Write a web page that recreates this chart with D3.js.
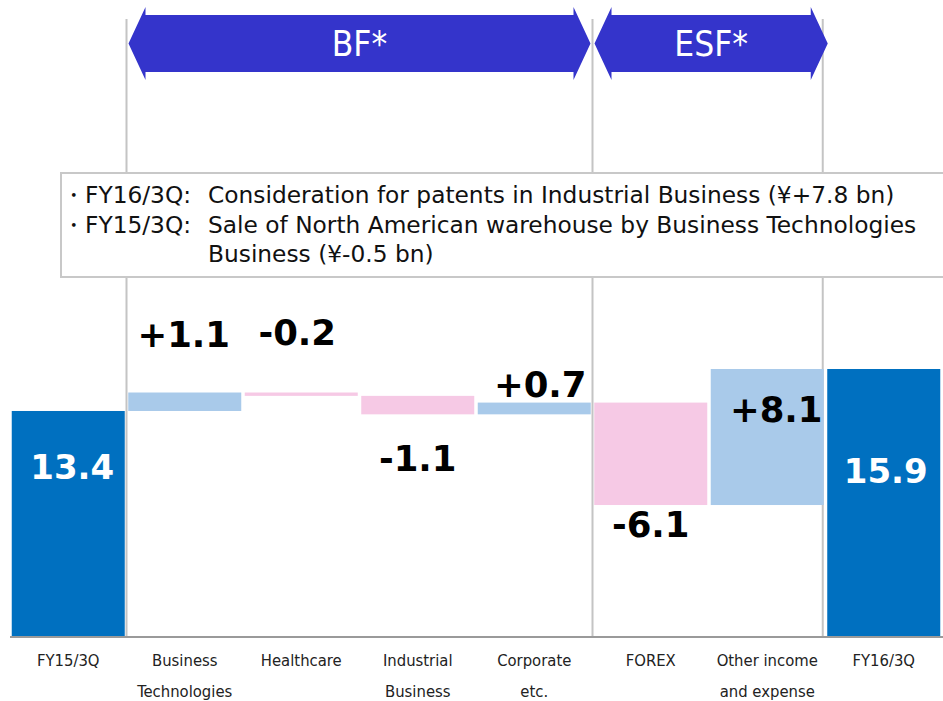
<!DOCTYPE html>
<html>
<head>
<meta charset="utf-8">
<script src="https://cdn.jsdelivr.net/npm/d3@7"></script>
<style>
  body { margin: 0; background: #fff; }
  svg { display: block; }
</style>
</head>
<body>
<div id="chart"></div>
<script>
// waterfall data (¥ bn)
const categories = ["FY15/3Q", "Business\nTechnologies", "Healthcare", "Industrial\nBusiness",
  "Corporate\netc.", "FOREX", "Other income\nand expense", "FY16/3Q"];
const changes = [13.4, 1.1, -0.2, -1.1, 0.7, -6.1, 8.1, 15.9];
const isTotal = [true, false, false, false, false, false, false, true];
const valueLabels = ["13.4", "+1.1", "-0.2", "-1.1", "+0.7", "-6.1", "+8.1", "15.9"];
const groups = [
  { name: "BF*", from: 1, to: 5 },
  { name: "ESF*", from: 5, to: 7 }
];
const notes = [
  ["・FY16/3Q:", "Consideration for patents in Industrial Business (¥+7.8 bn)"],
  ["・FY15/3Q:", "Sale of North American warehouse by Business Technologies"],
  ["", "Business (¥-0.5 bn)"]
];
// hand placed label nudges (px), like the slide
const labelDx = [4, -1, -4, 0, 6, 0, 9, 2];
const labelDy = [68, -46, -51, 57, -6, 32, 53, 114];

const W = 943, H = 701;
const svg = d3.select("#chart").append("svg")
  .attr("width", W).attr("height", H);

const x = d3.scaleBand().domain(d3.range(categories.length))
  .range([10, 942]).paddingInner(0.03).paddingOuter(0.015);
const y = d3.scaleLinear().domain([0, 15.9]).range([636, 369]);

// running totals
let run = 0;
const bars = changes.map(function (v, i) {
  let lo, hi;
  if (isTotal[i]) { lo = 0; hi = v; run = v; }
  else { lo = Math.min(run, run + v); hi = Math.max(run, run + v); run += v; }
  return { i: i, v: v, lo: lo, hi: hi };
});

const gap = x.step() - x.bandwidth();
function edge(i) { return i === 7 ? x(6) + x.bandwidth() - 1 : x(i) - gap / 2; }

// separators
const sepIdx = [1, 5, 7];
svg.selectAll("line.sep").data(sepIdx).enter().append("line")
  .attr("x1", function (d) { return edge(d); })
  .attr("x2", function (d) { return edge(d); })
  .attr("y1", 19).attr("y2", y(0))
  .attr("stroke", "#c4c4c4").attr("stroke-width", 2);

// group arrows
const arrowTop = 15, arrowBot = 72, headTop = 7, headBot = 80, headLen = 17;
groups.forEach(function (g) {
  const x0 = edge(g.from) + 2;
  const x1 = (g.to === 7 ? edge(7) + 5 : edge(g.to) - 2);
  const mid = (arrowTop + arrowBot) / 2;
  const pts = [
    [x0, mid], [x0 + headLen, headTop], [x0 + headLen, arrowTop],
    [x1 - headLen, arrowTop], [x1 - headLen, headTop], [x1, mid],
    [x1 - headLen, headBot], [x1 - headLen, arrowBot], [x0 + headLen, arrowBot],
    [x0 + headLen, headBot]
  ];
  svg.append("polygon")
    .attr("points", pts.map(function (p) { return p.join(","); }).join(" "))
    .attr("fill", "#3434cb");
  svg.append("text")
    .attr("x", (x0 + x1) / 2).attr("y", 56)
    .attr("text-anchor", "middle")
    .attr("font-family", "'DejaVu Sans Condensed', 'DejaVu Sans', sans-serif")
    .attr("font-size", 35).attr("fill", "#fff")
    .text(g.name);
});

// note box
svg.append("rect")
  .attr("x", 61).attr("y", 173).attr("width", 890).attr("height", 104)
  .attr("fill", "#fff").attr("stroke", "#c8c8c8").attr("stroke-width", 2);
const noteG = svg.append("g")
  .attr("font-family", "'DejaVu Sans', sans-serif")
  .attr("font-size", 23.3).attr("fill", "#111");
notes.forEach(function (n, k) {
  noteG.append("text").attr("x", 62).attr("y", 203 + k * 29.5).text(n[0]);
  noteG.append("text").attr("x", 208).attr("y", 203 + k * 29.5).text(n[1]);
});

// bars
svg.selectAll("rect.bar").data(bars).enter().append("rect")
  .attr("x", function (d) { return x(d.i); })
  .attr("width", x.bandwidth())
  .attr("y", function (d) { return y(d.hi); })
  .attr("height", function (d) { return Math.max(y(d.lo) - y(d.hi), 1); })
  .attr("fill", function (d) {
    if (isTotal[d.i]) return "#0070c0";
    return d.v >= 0 ? "#a9caea" : "#f6c9e5";
  });

// baseline
svg.append("line")
  .attr("x1", 10).attr("x2", 943).attr("y1", y(0) + 1).attr("y2", y(0) + 1)
  .attr("stroke", "#9a9a9a").attr("stroke-width", 2);

// value labels
svg.selectAll("text.val").data(bars).enter().append("text")
  .attr("x", function (d) { return x(d.i) + x.bandwidth() / 2 + labelDx[d.i]; })
  .attr("y", function (d) {
    const ref = (isTotal[d.i] || d.v >= 0) ? y(d.hi) : y(d.lo);
    return ref + labelDy[d.i];
  })
  .attr("text-anchor", "middle")
  .attr("font-family", "'DejaVu Sans', Verdana, sans-serif")
  .attr("font-weight", "bold")
  .attr("font-size", function (d) { return isTotal[d.i] ? 34 : 35.5; })
  .attr("fill", function (d) { return isTotal[d.i] ? "#fff" : "#000"; })
  .text(function (d) { return valueLabels[d.i]; });

// category labels
const catG = svg.append("g")
  .attr("font-family", "'DejaVu Sans Condensed', 'DejaVu Sans', sans-serif")
  .attr("font-size", 16.5).attr("fill", "#222").attr("text-anchor", "middle");
categories.forEach(function (c, i) {
  c.split("\n").forEach(function (line, k) {
    catG.append("text")
      .attr("x", x(i) + x.bandwidth() / 2)
      .attr("y", 666 + k * 31)
      .text(line);
  });
});
</script>
</body>
</html>
